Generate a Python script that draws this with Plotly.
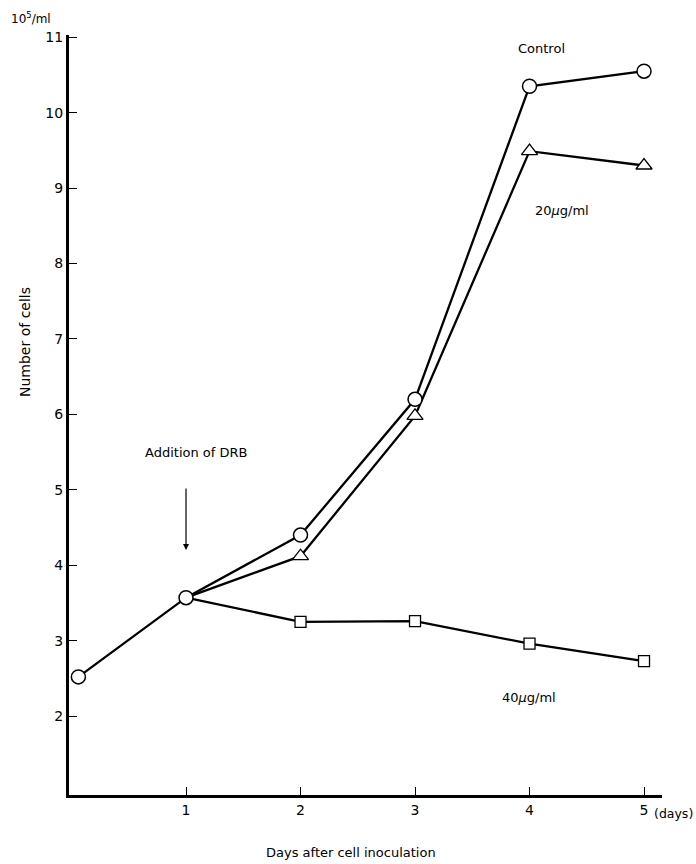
import plotly.graph_objects as go

days_control = [0.06, 1, 2, 3, 4, 5]
control = [2.52, 3.57, 4.40, 6.20, 10.35, 10.55]
days_treat = [1, 2, 3, 4, 5]
dose20 = [3.57, 4.12, 5.98, 9.49, 9.30]
dose40 = [3.57, 3.25, 3.26, 2.96, 2.73]
x_ticks = [1, 2, 3, 4, 5]
y_ticks = [2, 3, 4, 5, 6, 7, 8, 9, 10, 11]

FONT = "DejaVu Sans"
fig = go.Figure()

line = dict(color="black", width=2.3)
fig.add_trace(go.Scatter(x=days_treat, y=dose40, mode="lines", line=line,
                         showlegend=False, cliponaxis=False))
fig.add_trace(go.Scatter(x=days_treat, y=dose20, mode="lines", line=line,
                         showlegend=False, cliponaxis=False))
fig.add_trace(go.Scatter(x=days_control, y=control, mode="lines", line=line,
                         showlegend=False, cliponaxis=False))
fig.add_trace(go.Scatter(x=days_treat[1:], y=dose40[1:], mode="markers",
                         marker=dict(symbol="square", size=11, color="#ffffff",
                                     line=dict(color="black", width=1.3)),
                         showlegend=False, cliponaxis=False))
fig.add_trace(go.Scatter(x=days_treat[1:], y=dose20[1:], mode="markers",
                         marker=dict(symbol="triangle-up", size=14, color="#ffffff",
                                     line=dict(color="black", width=1.3)),
                         showlegend=False, cliponaxis=False))
fig.add_trace(go.Scatter(x=days_control, y=control, mode="markers",
                         marker=dict(symbol="circle", size=14, color="#ffffff",
                                     line=dict(color="black", width=1.5)),
                         showlegend=False, cliponaxis=False))

plot_l, plot_r, plot_t, plot_b = 69, 662, 35, 795

fig.update_layout(
    width=696, height=864,
    margin=dict(l=plot_l, r=696 - plot_r, t=plot_t, b=864 - plot_b),
    plot_bgcolor="white", paper_bgcolor="white",
    font=dict(family=FONT, size=13, color="black"),
    xaxis=dict(range=[-0.022, 5.157], showgrid=False, zeroline=False,
               showline=True, linecolor="black", linewidth=2.5,
               ticks="inside", tickvals=x_ticks, ticktext=[str(v) for v in x_ticks],
               ticklen=8, tickwidth=1.2, tickcolor="black",
               tickfont=dict(family=FONT, size=14)),
    yaxis=dict(range=[0.954, 11.03], showgrid=False, zeroline=False,
               showline=True, linecolor="black", linewidth=3,
               ticks="inside", tickvals=y_ticks, ticklen=8, tickwidth=1.2,
               tickcolor="black", tickfont=dict(family=FONT, size=14)),
)


def px_to_paper(px, py):
    return (px - plot_l) / (plot_r - plot_l), (plot_b - py) / (plot_b - plot_t)


ann = [
    (9, 18, "10<sup>5</sup>/ml", "left", 12),
    (541, 49, "Control", "center", 13),
    (562, 210, "20<i>μ</i>g/ml", "center", 13),
    (529, 697, "40<i>μ</i>g/ml", "center", 13),
    (196, 452, "Addition of DRB", "center", 13),
    (351, 853, "Days after cell inoculation", "center", 13),
    (695, 814, "(days)", "right", 12.5),
]
for x, y, t, xa, fs in ann:
    ax_, ay_ = px_to_paper(x, y)
    fig.add_annotation(xref="paper", yref="paper", x=ax_, y=ay_,
                       text=t, showarrow=False, xanchor=xa, yanchor="middle",
                       font=dict(family=FONT, size=fs, color="black"))

lx, ly = px_to_paper(15, 342)
fig.add_annotation(xref="paper", yref="paper", x=lx, y=ly,
                   text="Number of cells", textangle=-90, showarrow=False,
                   font=dict(family=FONT, size=14, color="black"))

# arrow: Addition of DRB
_, arr_y = px_to_paper(0, 550)
fig.add_annotation(xref="x", yref="paper", x=1, y=arr_y,
                   ax=0, ay=-63, axref="pixel", ayref="pixel",
                   showarrow=True, arrowhead=2, arrowsize=1, arrowwidth=1.2,
                   arrowcolor="black", text="")

fig.write_html("out.html", config={"displayModeBar": False},
               post_script="document.body.style.margin='0px';document.body.style.overflow='hidden';")
